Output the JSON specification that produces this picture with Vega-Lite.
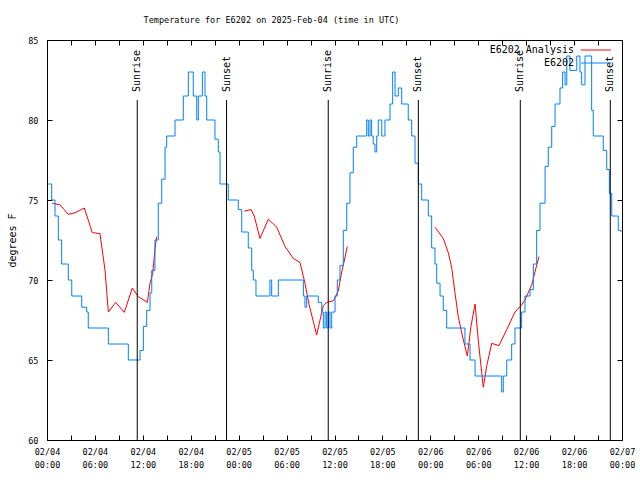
{
  "$schema": "https://vega.github.io/schema/vega-lite/v6.json",
  "width": 575,
  "height": 400,
  "autosize": "none",
  "padding": {"left": 47, "top": 40, "right": 18, "bottom": 40},
  "background": "white",
  "title": {"text": "Temperature for E6202 on 2025-Feb-04 (time in UTC)", "font": "DejaVu Sans Mono", "fontSize": 8.5, "fontWeight": "normal", "color": "black", "anchor": "middle", "dx": -63, "offset": 12},
  "config": {
    "view": {"stroke": "black", "strokeWidth": 1},
    "font": "DejaVu Sans Mono"
  },
  "datasets": {
    "obs": [
      {"t":"2025-02-04T00:10","v":76.0},{"t":"2025-02-04T00:35","v":75.0},{"t":"2025-02-04T01:00","v":74.0},{"t":"2025-02-04T01:25","v":72.5},
      {"t":"2025-02-04T01:50","v":71.0},{"t":"2025-02-04T02:28","v":71.0},{"t":"2025-02-04T02:40","v":70.0},{"t":"2025-02-04T03:06","v":69.0},
      {"t":"2025-02-04T04:08","v":69.0},{"t":"2025-02-04T04:21","v":68.3},{"t":"2025-02-04T04:58","v":68.0},{"t":"2025-02-04T05:10","v":67.0},
      {"t":"2025-02-04T07:29","v":67.0},{"t":"2025-02-04T07:41","v":66.0},{"t":"2025-02-04T09:59","v":66.0},{"t":"2025-02-04T10:11","v":65.0},
      {"t":"2025-02-04T11:26","v":65.0},{"t":"2025-02-04T11:39","v":65.6},{"t":"2025-02-04T12:04","v":67.1},{"t":"2025-02-04T12:29","v":68.1},
      {"t":"2025-02-04T12:54","v":69.2},{"t":"2025-02-04T13:07","v":70.6},{"t":"2025-02-04T13:31","v":72.5},{"t":"2025-02-04T13:56","v":74.8},
      {"t":"2025-02-04T14:22","v":76.3},{"t":"2025-02-04T14:47","v":78.3},{"t":"2025-02-04T14:59","v":79.0},{"t":"2025-02-04T15:44","v":79.0},
      {"t":"2025-02-04T16:02","v":80.0},{"t":"2025-02-04T16:39","v":80.0},{"t":"2025-02-04T17:04","v":81.5},{"t":"2025-02-04T17:42","v":83.0},
      {"t":"2025-02-04T18:00","v":83.0},{"t":"2025-02-04T18:19","v":81.5},{"t":"2025-02-04T18:45","v":80.0},{"t":"2025-02-04T18:57","v":81.5},
      {"t":"2025-02-04T19:27","v":83.0},{"t":"2025-02-04T19:47","v":81.5},{"t":"2025-02-04T20:00","v":80.0},{"t":"2025-02-04T20:42","v":80.0},
      {"t":"2025-02-04T21:02","v":78.8},{"t":"2025-02-04T21:27","v":78.0},{"t":"2025-02-04T21:40","v":76.0},{"t":"2025-02-04T22:30","v":76.0},
      {"t":"2025-02-04T22:42","v":75.0},{"t":"2025-02-04T23:45","v":75.0},{"t":"2025-02-04T23:57","v":74.4},{"t":"2025-02-05T00:23","v":73.0},
      {"t":"2025-02-05T01:00","v":73.0},{"t":"2025-02-05T01:12","v":72.0},{"t":"2025-02-05T01:38","v":70.6},{"t":"2025-02-05T01:50","v":70.0},
      {"t":"2025-02-05T02:10","v":69.0},{"t":"2025-02-05T03:43","v":69.0},{"t":"2025-02-05T03:55","v":70.0},{"t":"2025-02-05T04:08","v":69.0},
      {"t":"2025-02-05T04:46","v":69.0},{"t":"2025-02-05T04:58","v":70.0},{"t":"2025-02-05T08:01","v":70.0},{"t":"2025-02-05T08:06","v":69.0},
      {"t":"2025-02-05T08:18","v":68.3},{"t":"2025-02-05T08:31","v":69.0},{"t":"2025-02-05T09:46","v":69.0},{"t":"2025-02-05T09:58","v":68.6},
      {"t":"2025-02-05T10:24","v":68.0},{"t":"2025-02-05T10:36","v":67.0},{"t":"2025-02-05T10:49","v":68.0},{"t":"2025-02-05T11:01","v":67.0},
      {"t":"2025-02-05T11:13","v":68.0},{"t":"2025-02-05T11:26","v":67.0},{"t":"2025-02-05T11:39","v":68.0},{"t":"2025-02-05T12:04","v":69.0},
      {"t":"2025-02-05T12:21","v":70.0},{"t":"2025-02-05T12:41","v":70.9},{"t":"2025-02-05T13:06","v":73.1},{"t":"2025-02-05T13:32","v":74.8},
      {"t":"2025-02-05T13:56","v":76.7},{"t":"2025-02-05T14:21","v":78.3},{"t":"2025-02-05T14:47","v":79.0},{"t":"2025-02-05T15:49","v":79.0},
      {"t":"2025-02-05T16:02","v":80.0},{"t":"2025-02-05T16:14","v":79.0},{"t":"2025-02-05T16:27","v":80.0},{"t":"2025-02-05T16:39","v":79.0},
      {"t":"2025-02-05T16:51","v":78.5},{"t":"2025-02-05T17:04","v":78.0},{"t":"2025-02-05T17:17","v":79.0},{"t":"2025-02-05T17:29","v":80.0},
      {"t":"2025-02-05T17:42","v":80.0},{"t":"2025-02-05T17:55","v":79.0},{"t":"2025-02-05T18:07","v":79.0},{"t":"2025-02-05T18:19","v":80.0},
      {"t":"2025-02-05T18:32","v":80.0},{"t":"2025-02-05T18:57","v":81.0},{"t":"2025-02-05T19:17","v":83.0},{"t":"2025-02-05T19:35","v":81.5},
      {"t":"2025-02-05T19:59","v":82.0},{"t":"2025-02-05T20:25","v":81.0},{"t":"2025-02-05T20:57","v":81.0},{"t":"2025-02-05T21:14","v":80.0},
      {"t":"2025-02-05T21:40","v":79.0},{"t":"2025-02-05T22:05","v":77.3},{"t":"2025-02-05T22:30","v":76.0},{"t":"2025-02-05T22:55","v":75.0},
      {"t":"2025-02-05T23:27","v":75.0},{"t":"2025-02-05T23:45","v":74.0},{"t":"2025-02-06T00:10","v":72.0},{"t":"2025-02-06T00:35","v":71.0},
      {"t":"2025-02-06T00:48","v":69.8},{"t":"2025-02-06T01:13","v":69.0},{"t":"2025-02-06T01:37","v":68.1},{"t":"2025-02-06T02:03","v":67.0},
      {"t":"2025-02-06T04:08","v":67.0},{"t":"2025-02-06T04:20","v":66.0},{"t":"2025-02-06T04:58","v":65.0},{"t":"2025-02-06T05:36","v":64.0},
      {"t":"2025-02-06T08:38","v":64.0},{"t":"2025-02-06T08:56","v":63.0},{"t":"2025-02-06T09:08","v":64.0},{"t":"2025-02-06T09:34","v":65.0},
      {"t":"2025-02-06T10:11","v":66.0},{"t":"2025-02-06T10:36","v":67.0},{"t":"2025-02-06T11:14","v":67.0},{"t":"2025-02-06T11:26","v":68.0},
      {"t":"2025-02-06T11:51","v":69.0},{"t":"2025-02-06T12:29","v":69.4},{"t":"2025-02-06T12:54","v":71.0},{"t":"2025-02-06T13:19","v":73.1},
      {"t":"2025-02-06T13:44","v":74.8},{"t":"2025-02-06T14:22","v":77.1},{"t":"2025-02-06T14:46","v":78.3},{"t":"2025-02-06T15:12","v":79.6},
      {"t":"2025-02-06T15:37","v":81.0},{"t":"2025-02-06T16:14","v":82.0},{"t":"2025-02-06T16:34","v":83.0},{"t":"2025-02-06T16:52","v":82.2},
      {"t":"2025-02-06T17:05","v":84.0},{"t":"2025-02-06T17:29","v":83.1},{"t":"2025-02-06T17:54","v":83.1},{"t":"2025-02-06T18:20","v":84.0},
      {"t":"2025-02-06T18:44","v":83.0},{"t":"2025-02-06T18:57","v":82.2},{"t":"2025-02-06T19:22","v":84.0},{"t":"2025-02-06T20:00","v":84.0},
      {"t":"2025-02-06T20:12","v":80.6},{"t":"2025-02-06T20:24","v":79.0},{"t":"2025-02-06T21:27","v":79.0},{"t":"2025-02-06T21:39","v":78.1},
      {"t":"2025-02-06T22:05","v":76.9},{"t":"2025-02-06T22:25","v":75.4},{"t":"2025-02-06T22:43","v":74.0},{"t":"2025-02-06T23:20","v":74.0},
      {"t":"2025-02-06T23:32","v":73.1},{"t":"2025-02-06T23:52","v":73.0}
    ],
    "ana": [
      {"t":"2025-02-04T00:40","v":74.8,"seg":1},{"t":"2025-02-04T01:38","v":74.7,"seg":1},{"t":"2025-02-04T02:40","v":74.1,"seg":1},
      {"t":"2025-02-04T03:30","v":74.2,"seg":1},{"t":"2025-02-04T04:40","v":74.5,"seg":1},{"t":"2025-02-04T05:10","v":73.75,"seg":1},
      {"t":"2025-02-04T05:40","v":72.96,"seg":1},{"t":"2025-02-04T06:38","v":72.9,"seg":1},{"t":"2025-02-04T07:16","v":70.6,"seg":1},
      {"t":"2025-02-04T07:41","v":68.0,"seg":1},{"t":"2025-02-04T08:36","v":68.6,"seg":1},{"t":"2025-02-04T09:41","v":67.98,"seg":1},
      {"t":"2025-02-04T10:41","v":69.5,"seg":1},{"t":"2025-02-04T11:26","v":68.96,"seg":1},{"t":"2025-02-04T12:34","v":68.6,"seg":1},
      {"t":"2025-02-04T12:54","v":69.8,"seg":1},{"t":"2025-02-04T13:14","v":70.4,"seg":1},{"t":"2025-02-04T13:31","v":71.9,"seg":1},
      {"t":"2025-02-04T13:44","v":72.7,"seg":1},
      {"t":"2025-02-05T00:42","v":74.3,"seg":2},{"t":"2025-02-05T01:33","v":74.4,"seg":2},{"t":"2025-02-05T01:57","v":74.0,"seg":2},
      {"t":"2025-02-05T02:40","v":72.6,"seg":2},{"t":"2025-02-05T03:43","v":73.8,"seg":2},{"t":"2025-02-05T04:46","v":73.3,"seg":2},
      {"t":"2025-02-05T05:48","v":72.1,"seg":2},{"t":"2025-02-05T06:50","v":71.35,"seg":2},{"t":"2025-02-05T07:41","v":71.1,"seg":2},
      {"t":"2025-02-05T08:18","v":69.8,"seg":2},{"t":"2025-02-05T08:48","v":68.5,"seg":2},{"t":"2025-02-05T09:46","v":66.56,"seg":2},
      {"t":"2025-02-05T10:36","v":68.4,"seg":2},{"t":"2025-02-05T11:01","v":68.6,"seg":2},{"t":"2025-02-05T11:51","v":68.7,"seg":2},
      {"t":"2025-02-05T12:28","v":69.3,"seg":2},{"t":"2025-02-05T12:54","v":70.5,"seg":2},{"t":"2025-02-05T13:11","v":71.1,"seg":2},
      {"t":"2025-02-05T13:36","v":72.1,"seg":2},
      {"t":"2025-02-06T00:35","v":73.3,"seg":3},{"t":"2025-02-06T01:37","v":72.6,"seg":3},{"t":"2025-02-06T02:15","v":71.7,"seg":3},
      {"t":"2025-02-06T02:40","v":70.8,"seg":3},{"t":"2025-02-06T03:05","v":69.2,"seg":3},{"t":"2025-02-06T03:30","v":67.7,"seg":3},
      {"t":"2025-02-06T04:08","v":66.25,"seg":3},{"t":"2025-02-06T04:38","v":65.25,"seg":3},{"t":"2025-02-06T05:05","v":67.1,"seg":3},
      {"t":"2025-02-06T05:36","v":68.5,"seg":3},{"t":"2025-02-06T06:00","v":66.25,"seg":3},{"t":"2025-02-06T06:26","v":64.2,"seg":3},
      {"t":"2025-02-06T06:38","v":63.3,"seg":3},{"t":"2025-02-06T07:03","v":64.6,"seg":3},{"t":"2025-02-06T07:41","v":66.04,"seg":3},
      {"t":"2025-02-06T08:36","v":65.9,"seg":3},{"t":"2025-02-06T09:34","v":66.9,"seg":3},{"t":"2025-02-06T10:36","v":68.0,"seg":3},
      {"t":"2025-02-06T11:21","v":68.4,"seg":3},{"t":"2025-02-06T11:51","v":68.75,"seg":3},{"t":"2025-02-06T12:42","v":69.7,"seg":3},
      {"t":"2025-02-06T13:06","v":70.5,"seg":3},{"t":"2025-02-06T13:36","v":71.46,"seg":3}
    ],
    "sun": [
      {"t":"2025-02-04T11:18","label":"Sunrise"},
      {"t":"2025-02-04T22:29","label":"Sunset"},
      {"t":"2025-02-05T11:13","label":"Sunrise"},
      {"t":"2025-02-05T22:30","label":"Sunset"},
      {"t":"2025-02-06T11:16","label":"Sunrise"},
      {"t":"2025-02-06T22:32","label":"Sunset"}
    ]
  },
  "layer": [
    {
      "data": {"name": "ana"},
      "mark": {"type": "line", "strokeWidth": 1, "interpolate": "linear"},
      "encoding": {
        "x": {"field": "t", "type": "temporal",
          "scale": {"domain": ["2025-02-04T00:00", "2025-02-07T00:00"]},
          "axis": {"orient": "bottom", "title": null, "grid": false, "domain": false,
            "tickCount": 36, "tickSize": -5, "tickColor": "black",
            "labelExpr": "hours(datum.value) % 6 == 0 ? [timeFormat(datum.value, '%m/%d'), timeFormat(datum.value, '%H:%M')] : ''",
            "labelFont": "DejaVu Sans Mono", "labelFontSize": 8.5, "labelColor": "black", "labelPadding": 12,
            "labelOverlap": false, "labelBound": false, "labelFlush": false, "labelLineHeight": 13, "labelBaseline": "top"}},
        "y": {"field": "v", "type": "quantitative",
          "scale": {"domain": [60, 85], "nice": false, "zero": false},
          "axis": {"orient": "left", "values": [60, 65, 70, 75, 80, 85], "grid": false, "domain": false,
            "tickSize": -5, "tickColor": "black",
            "labelFont": "DejaVu Sans Mono", "labelFontSize": 8.5, "labelColor": "black", "labelPadding": 14,
            "title": "degrees F", "titleFont": "DejaVu Sans Mono", "titleFontSize": 10, "titleFontWeight": "normal",
            "titleColor": "black", "titlePadding": 10}},
        "color": {"datum": "E6202 Analysis", "type": "nominal",
          "scale": {"domain": ["E6202 Analysis", "E6202"], "range": ["#ff0000", "#0080ff"]},
          "legend": {"title": null, "orient": "none", "legendX": 544, "legendY": 5, "direction": "vertical",
            "symbolType": "M-3,-0.1H3V0.1H-3Z", "symbolSize": 100, "symbolStrokeWidth": 0,
            "labelAlign": "right", "labelOffset": -27, "labelFont": "DejaVu Sans Mono", "labelFontSize": 10,
            "labelColor": "black", "rowPadding": 3, "padding": 0,
            "encode": {"symbols": {"update": {
              "fill": {"signal": "datum.value === 'E6202' ? '#0080ff' : '#ff0000'"},
              "stroke": {"signal": "datum.value === 'E6202' ? '#0080ff' : '#ff0000'"},
              "fillOpacity": {"value": 1}, "strokeOpacity": {"value": 1}, "opacity": {"value": 1}}}}}},
        "detail": {"field": "seg", "type": "nominal"}
      }
    },
    {
      "data": {"name": "obs"},
      "mark": {"type": "line", "strokeWidth": 1, "interpolate": "step-after"},
      "encoding": {
        "x": {"field": "t", "type": "temporal", "axis": null},
        "y": {"field": "v", "type": "quantitative", "axis": null},
        "color": {"datum": "E6202", "type": "nominal"}
      }
    },
    {
      "data": {"name": "sun"},
      "mark": {"type": "rule", "color": "black", "strokeWidth": 1},
      "encoding": {
        "x": {"field": "t", "type": "temporal", "axis": null},
        "y": {"datum": 81.25, "type": "quantitative", "axis": null},
        "y2": {"datum": 60}
      }
    },
    {
      "data": {"name": "sun"},
      "mark": {"type": "text", "angle": 270, "align": "left", "baseline": "middle", "font": "DejaVu Sans Mono", "fontSize": 10, "color": "black"},
      "encoding": {
        "x": {"field": "t", "type": "temporal", "axis": null},
        "y": {"datum": 81.75, "type": "quantitative", "axis": null},
        "text": {"field": "label"}
      }
    },
    {
      "data": {"name": "obs"},
      "mark": {"type": "point", "opacity": 0},
      "encoding": {
        "x": {"field": "t", "type": "temporal",
          "axis": {"orient": "top", "title": null, "grid": false, "domain": false, "labels": false,
            "tickCount": 36, "tickSize": -5, "tickColor": "black"}},
        "y": {"field": "v", "type": "quantitative",
          "axis": {"orient": "right", "title": null, "grid": false, "domain": false, "labels": false,
            "values": [60, 65, 70, 75, 80, 85], "tickSize": -5, "tickColor": "black"}}
      }
    }
  ],
  "resolve": {"axis": {"x": "independent", "y": "independent"}}
}
